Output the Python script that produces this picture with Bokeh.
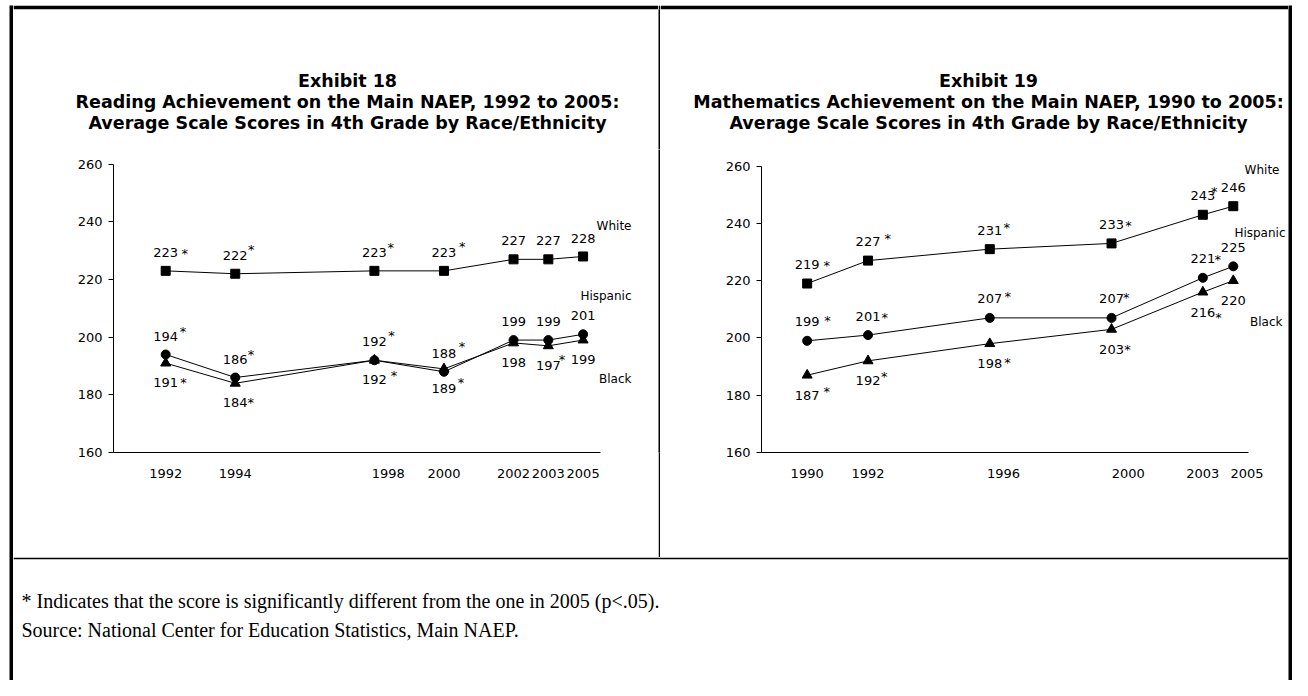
from bokeh.plotting import figure
from bokeh.layouts import row, column
from bokeh.models import ColumnDataSource, LabelSet, Label, FixedTicker, Range1d, Spacer
from bokeh.core.properties import value
from bokeh.embed import file_html
from bokeh.resources import INLINE

FONT = "DejaVu Sans"
SERIF = "Liberation Serif"

# ---------------- data ----------------
read_years = [1992, 1994, 1998, 2000, 2002, 2003, 2005]
read_white = [223, 222, 223, 223, 227, 227, 228]
read_hispanic = [194, 186, 192, 188, 199, 199, 201]
read_black = [191, 184, 192, 189, 198, 197, 199]
read_white_sig = [True, True, True, True, False, False, False]
read_hispanic_sig = [True, True, True, True, False, False, False]
read_black_sig = [True, True, True, True, False, True, False]

math_years = [1990, 1992, 1996, 2000, 2003, 2005]
math_white = [219, 227, 231, 233, 243, 246]
math_hispanic = [199, 201, 207, 207, 221, 225]
math_black = [187, 192, 198, 203, 216, 220]
math_white_sig = [True, True, True, True, True, False]
math_hispanic_sig = [True, True, True, True, True, False]
math_black_sig = [True, True, True, True, True, False]

y_ticks = [160, 180, 200, 220, 240, 260]
series_names = ["White", "Hispanic", "Black"]

read_title = ["Exhibit 18",
              "Reading Achievement on the Main NAEP, 1992 to 2005:",
              "Average Scale Scores in 4th Grade by Race/Ethnicity"]
math_title = ["Exhibit 19",
              "Mathematics Achievement on the Main NAEP, 1990 to 2005:",
              "Average Scale Scores in 4th Grade by Race/Ethnicity"]
footnote = "* Indicates that the score is significantly different from the one in 2005 (p<.05)."
source_note = "Source:  National Center for Education Statistics, Main NAEP."

# ---------------- styles (label placement, in pixels) ----------------
markers = {"White": ("square", 9), "Hispanic": ("circle", 9), "Black": ("triangle", 10)}
# asterisk placement (dx from number centre, dy of glyph centre; negative = up)
read_star = {
    "White": [(19, -2.4), (16, -9.3), (16.3, -8), (18.4, -9), None, None, None],
    "Hispanic": [(17.4, -7.7), (15.7, -7.7), (17, -9), (18, -9.4), None, None, None],
    "Black": [(17.7, -3.3), (15.4, -3.3), (19.6, -7.6), (17, -8.4), None, (13.7, -9.3), None],
}
math_star = {
    "White": [(19.7, -2.3), (19.8, -5.7), (17, -6), (17, -2), (11.3, -7.4), None],
    "Hispanic": [(20.3, -4), (16.8, -2), (18, -5.7), (14.8, -4), (15, -2.3), None],
    "Black": [(19.7, -6.7), (16.3, -7), (17.6, -4), (16, -3.3), (15.6, 2), None],
}
# small horizontal shifts of some year labels, as in the original (axis units)
read_label_nudge = {1998: 0.4}
math_label_nudge = {1996: 0.45, 2000: 0.55, 2005: 0.45}

AXIS_W = 487.0    # pixel length of x axis
AXIS_H = 288.3    # pixel length of y axis (160..260)


def slot(year):
    # the original charts draw 2005 one step after 2003
    return 2004 if year == 2005 else year


def strip(w, h, color="black"):
    return figure(width=w, height=h, title=None, x_axis_type=None, y_axis_type=None,
                  toolbar_location=None, output_backend="svg", min_border=0,
                  background_fill_color=color, border_fill_color=color,
                  outline_line_color=None)


def text_panel(w, h, top_band):
    # white text area with a black band (box border) along its top edge
    f = figure(width=w, height=h, title=None, x_range=Range1d(0, w),
               y_range=Range1d(0, h - top_band), x_axis_type=None, y_axis_type=None,
               toolbar_location=None, output_backend="svg", min_border=0,
               min_border_top=top_band, outline_line_color=None,
               background_fill_color="white", border_fill_color="black")
    return f


def build_title(lines, w, xc, ys, size):
    f = text_panel(w, 144, 4)
    for line, y in zip(lines, ys):
        f.add_layout(Label(x=xc, y=y, text=line, text_align="center", text_baseline="middle",
                           text_font=FONT, text_font_size=size, text_font_style="bold",
                           text_color="black"))
    return f


def build_chart(years, values, sigs, stars, nudge, legend_cfg, panel_w, panel_h,
                border_left, border_bottom, x_axis, above_dy, below_dy):
    slots = [slot(y) for y in years]
    ppu_x = AXIS_W / (x_axis[1] - x_axis[0])
    ppu_y = AXIS_H / 100.0
    frame_w = panel_w - border_left
    frame_h = panel_h - border_bottom
    p = figure(width=panel_w, height=panel_h, title=None,
               x_range=Range1d(x_axis[0], x_axis[0] + frame_w / ppu_x),
               y_range=Range1d(160, 160 + frame_h / ppu_y),
               output_backend="svg", toolbar_location=None,
               min_border_left=border_left, min_border_right=0,
               min_border_top=0, min_border_bottom=border_bottom,
               background_fill_color="white", border_fill_color="white")
    p.grid.visible = False
    p.outline_line_color = None

    tick_pos = [s + nudge.get(y, 0) for s, y in zip(slots, years)]
    xa = p.xaxis[0]
    xa.bounds = x_axis
    xa.ticker = FixedTicker(ticks=tick_pos)
    xa.major_label_overrides = {t: str(y) for t, y in zip(tick_pos, years)}
    xa.major_tick_out = 0
    xa.major_tick_in = 0
    xa.minor_tick_out = 0
    xa.minor_tick_in = 0
    xa.axis_line_color = "black"
    xa.axis_line_width = 1
    xa.major_label_text_font = FONT
    xa.major_label_text_font_size = "13px"
    xa.major_label_text_color = "black"
    xa.major_label_standoff = 16

    ya = p.yaxis[0]
    ya.bounds = (160, 260)
    ya.ticker = FixedTicker(ticks=y_ticks)
    ya.major_tick_out = 5
    ya.major_tick_in = 0
    ya.minor_tick_out = 0
    ya.minor_tick_in = 0
    ya.major_tick_line_color = "black"
    ya.axis_line_color = "black"
    ya.axis_line_width = 1
    ya.major_label_text_font = FONT
    ya.major_label_text_font_size = "13px"
    ya.major_label_text_color = "black"
    ya.major_label_standoff = 6

    for name in series_names:
        vals = values[name]
        mk, sz = markers[name]
        p.line(slots, vals, line_color="black", line_width=1)
        p.scatter(slots, vals, marker=mk, size=sz, fill_color="black", line_color="black")
        dy = below_dy if name == "Black" else above_dy
        src = ColumnDataSource(dict(x=slots, y=vals, t=[str(v) for v in vals],
                                    dy=[dy] * len(vals)))
        p.add_layout(LabelSet(x="x", y="y", text="t", source=src, y_offset="dy",
                              text_align="center", text_baseline="middle",
                              text_font=value(FONT), text_font_size="13px",
                              text_color="black"))
        sx, sy, sdx, sdy = [], [], [], []
        for s, v, flag, st in zip(slots, vals, sigs[name], stars[name]):
            if flag and st is not None:
                sx.append(s)
                sy.append(v)
                sdx.append(st[0])
                sdy.append(dy - (st[1] + 3))
        ssrc = ColumnDataSource(dict(x=sx, y=sy, t=["*"] * len(sx), dx=sdx, dy=sdy))
        p.add_layout(LabelSet(x="x", y="y", text="t", source=ssrc, x_offset="dx", y_offset="dy",
                              text_align="center", text_baseline="middle",
                              text_font=value(FONT), text_font_size="13px",
                              text_color="black"))

    for name, (ly, lxoff) in legend_cfg.items():
        p.add_layout(Label(x=x_axis[1], y=ly, x_offset=lxoff, text=name, text_align="right",
                           text_baseline="middle", text_font=FONT, text_font_size="12px",
                           text_color="black"))
    return p


left_title = build_title(read_title, 645, 334, [69, 48, 27], "17.5px")
left_chart = build_chart(read_years,
                         {"White": read_white, "Hispanic": read_hispanic, "Black": read_black},
                         {"White": read_white_sig, "Hispanic": read_hispanic_sig,
                          "Black": read_black_sig},
                         read_star, read_label_nudge,
                         {"White": (238.6, 31), "Hispanic": (214.3, 31), "Black": (185.5, 31)},
                         645, 408, 100, 105, (1990.5, 2004.5), 18.4, -19.5)

right_title = build_title(math_title, 628, 328, [69, 48, 27], "17.5px")
right_chart = build_chart(math_years,
                          {"White": math_white, "Hispanic": math_hispanic, "Black": math_black},
                          {"White": math_white_sig, "Hispanic": math_hispanic_sig,
                           "Black": math_black_sig},
                          math_star, math_label_nudge,
                          {"White": (258.5, 31), "Hispanic": (236.6, 37), "Black": (205.6, 34)},
                          628, 408, 101, 103, (1988.5, 2004.5), 19, -20)

foot = text_panel(1275, 123, 2)
foot.add_layout(Label(x=8, y=80, text=footnote, text_baseline="middle", text_align="left",
                      text_font=SERIF, text_font_size="20px", text_color="black"))
foot.add_layout(Label(x=8, y=51, text=source_note, text_baseline="middle", text_align="left",
                      text_font=SERIF, text_font_size="20px", text_color="black"))

title_row = row(left_title, strip(2, 144), right_title)
chart_row = row(left_chart, strip(2, 408), right_chart)
inner = column(title_row, chart_row, foot)
box = row(strip(4, 675), inner, strip(4, 675))
layout = column(Spacer(width=1292, height=5), row(Spacer(width=9, height=675), box))

open("out.html", "w").write(file_html(layout, INLINE))
